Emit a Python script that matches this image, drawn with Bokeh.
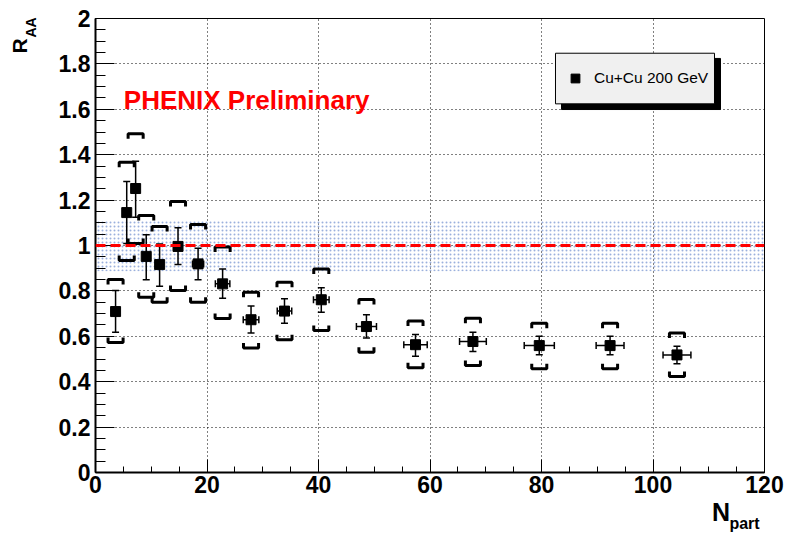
import numpy as np
from bokeh.plotting import figure
from bokeh.models import (Range1d, FixedTicker, Whisker, TeeHead, ColumnDataSource,
                          Label, Legend, LegendItem, Span)
from bokeh.embed import file_html
from bokeh.resources import INLINE

# ---- data ----
npart = [3.6, 5.6, 7.2, 9.1, 11.5, 14.8, 18.4, 22.8, 27.9, 33.9, 40.5, 48.6, 57.4, 67.7, 79.6, 92.3, 104.3]
raa = [0.709, 1.145, 1.251, 0.952, 0.916, 0.996, 0.919, 0.831, 0.673, 0.711, 0.761, 0.643, 0.563, 0.577, 0.559, 0.559, 0.518]
stat_hi = [0.802, 1.282, 1.371, 1.047, 1.007, 1.078, 0.988, 0.897, 0.733, 0.765, 0.814, 0.695, 0.608, 0.618, 0.600, 0.600, 0.556]
stat_lo = [0.618, 1.009, 1.125, 0.849, 0.821, 0.916, 0.849, 0.768, 0.614, 0.658, 0.706, 0.593, 0.512, 0.533, 0.519, 0.519, 0.479]
sys_hi = [0.850, 1.367, 1.492, 1.132, 1.084, 1.194, 1.093, 0.993, 0.794, 0.838, 0.897, 0.762, 0.667, 0.680, 0.658, 0.658, 0.615]
sys_lo = [0.573, 0.934, 1.009, 0.772, 0.750, 0.802, 0.750, 0.678, 0.549, 0.585, 0.626, 0.530, 0.461, 0.471, 0.457, 0.457, 0.423]
npart_err = [0.5, 0.5, 0.5, 0.6, 0.6, 0.7, 1.0, 1.3, 1.4, 1.3, 1.4, 1.8, 2.1, 2.4, 2.7, 2.5, 2.5]
norm_lo = 0.887
norm_hi = 1.110

series_label = "Cu+Cu 200 GeV"
watermark = "PHENIX Preliminary"
x_ticks = [0, 20, 40, 60, 80, 100, 120]
x_tick_labels = ["0", "20", "40", "60", "80", "100", "120"]
y_ticks = [0, 0.2, 0.4, 0.6, 0.8, 1, 1.2, 1.4, 1.6, 1.8, 2]
y_tick_labels = ["0", "0.2", "0.4", "0.6", "0.8", "1", "1.2", "1.4", "1.6", "1.8", "2"]

FONT = "Liberation Sans"

p = figure(width=790, height=536, x_range=Range1d(0, 120), y_range=Range1d(0, 2),
           output_backend="svg", toolbar_location=None,
           min_border_left=95, min_border_right=26, min_border_top=18, min_border_bottom=64)
p.background_fill_color = "white"
p.border_fill_color = "white"
p.outline_line_color = "black"
p.outline_line_width = 1

# axes
p.xaxis.ticker = FixedTicker(ticks=x_ticks, minor_ticks=list(np.arange(0, 121, 5)))
p.yaxis.ticker = FixedTicker(ticks=y_ticks, minor_ticks=[round(v, 2) for v in np.arange(0, 2.001, 0.05)])
p.xaxis.major_label_overrides = {t: l for t, l in zip(x_ticks, x_tick_labels)}
p.yaxis.major_label_overrides = {t: l for t, l in zip(y_ticks, y_tick_labels)}
for ax, tin, mtin, so in ((p.xaxis, 13, 6, 3), (p.yaxis, 19, 10, 5)):
    ax.major_tick_in = tin
    ax.major_tick_out = 0
    ax.minor_tick_in = mtin
    ax.minor_tick_out = 0
    ax.major_tick_line_color = "black"
    ax.minor_tick_line_color = "black"
    ax.major_tick_line_width = 1
    ax.minor_tick_line_width = 1
    ax.axis_line_color = "black"
    ax.axis_line_width = 2
    ax.major_label_text_font = FONT
    ax.major_label_text_font_style = "bold"
    ax.major_label_text_font_size = "23px"
    ax.major_label_text_color = "black"
    ax.major_label_standoff = so

for g in (p.xgrid, p.ygrid):
    g.grid_line_color = "black"
    g.grid_line_dash = "1 3"
    g.grid_line_width = 1

# normalisation band
p.quad(left=[0], right=[120], bottom=[norm_lo], top=[norm_hi],
       fill_alpha=0, line_alpha=0, hatch_pattern="dot", hatch_scale=4,
       hatch_color="#9bb0dd", hatch_weight=1)

p.add_layout(Span(location=1, dimension="width", line_color="#ff0000",
                  line_width=3, line_dash="10 5"))

# legend frame: drop shadow + grey box (the Legend itself is drawn transparent on top)
p.quad(left=[83.59], right=[112.11], top=[1.824], bottom=[1.599],
       fill_color="black", line_color="black")
p.quad(left=[82.51], right=[111.03], top=[1.847], bottom=[1.624],
       fill_color="#f0f0f0", line_color="black", line_width=1)

# systematic brackets
w = 1.35
arm = 0.022
bxs, bys = [], []
for x, hi, lo in zip(npart, sys_hi, sys_lo):
    bxs.append([x - w, x - w, x + w, x + w]); bys.append([hi - arm, hi, hi, hi - arm])
    bxs.append([x - w, x - w, x + w, x + w]); bys.append([lo + arm, lo, lo, lo + arm])
p.multi_line(bxs, bys, line_color="black", line_width=3)

src = ColumnDataSource(dict(x=npart, y=raa, hi=stat_hi, lo=stat_lo,
                            xl=[a - b for a, b in zip(npart, npart_err)],
                            xr=[a + b for a, b in zip(npart, npart_err)]))
wy = Whisker(base="x", upper="hi", lower="lo", source=src, dimension="height",
             line_color="black", line_width=1.5, level="glyph",
             upper_head=TeeHead(size=7, line_color="black", line_width=1.5),
             lower_head=TeeHead(size=7, line_color="black", line_width=1.5))
wx = Whisker(base="y", upper="xr", lower="xl", source=src, dimension="width",
             line_color="black", line_width=1.5, level="glyph",
             upper_head=TeeHead(size=7, line_color="black", line_width=1.5),
             lower_head=TeeHead(size=7, line_color="black", line_width=1.5))
p.add_layout(wy)
p.add_layout(wx)

sc = p.scatter("x", "y", source=src, marker="square", size=10,
               fill_color="black", line_color="black")

# watermark
p.add_layout(Label(x=5.08, y=1.642, text=watermark, text_color="#ff0000",
                   text_font=FONT, text_font_style="bold", text_font_size="26px",
                   text_align="left", text_baseline="middle"))

# axis titles (side panels so they are not clipped to the frame)
p.add_layout(Label(x=-13.6, y=1.846, text="R", angle=np.pi / 2, text_font=FONT,
                   text_color="black", text_font_style="bold", text_font_size="21px",
                   text_align="left", text_baseline="middle"), "left")
p.add_layout(Label(x=-11.5, y=1.916, text="AA", angle=np.pi / 2, text_font=FONT,
                   text_color="black", text_font_style="bold", text_font_size="14px",
                   text_align="left", text_baseline="middle"), "left")
p.add_layout(Label(x=110.6, y=-0.176, text="N", text_font=FONT,
                   text_color="black", text_font_style="bold", text_font_size="25px",
                   text_align="left", text_baseline="middle"), "below")
p.add_layout(Label(x=113.7, y=-0.224, text="part", text_font=FONT,
                   text_color="black", text_font_style="bold", text_font_size="16px",
                   text_align="left", text_baseline="middle"), "above")

legend = Legend(items=[LegendItem(label=series_label, renderers=[sc])],
                location=(460, 369), margin=0, padding=5,
                glyph_width=30, glyph_height=22, label_height=41, label_standoff=4,
                border_line_alpha=0, background_fill_alpha=0,
                label_text_font=FONT, label_text_font_size="15.5px", label_text_color="black")
p.add_layout(legend)

open("out.html", "w").write(file_html(p, INLINE))
